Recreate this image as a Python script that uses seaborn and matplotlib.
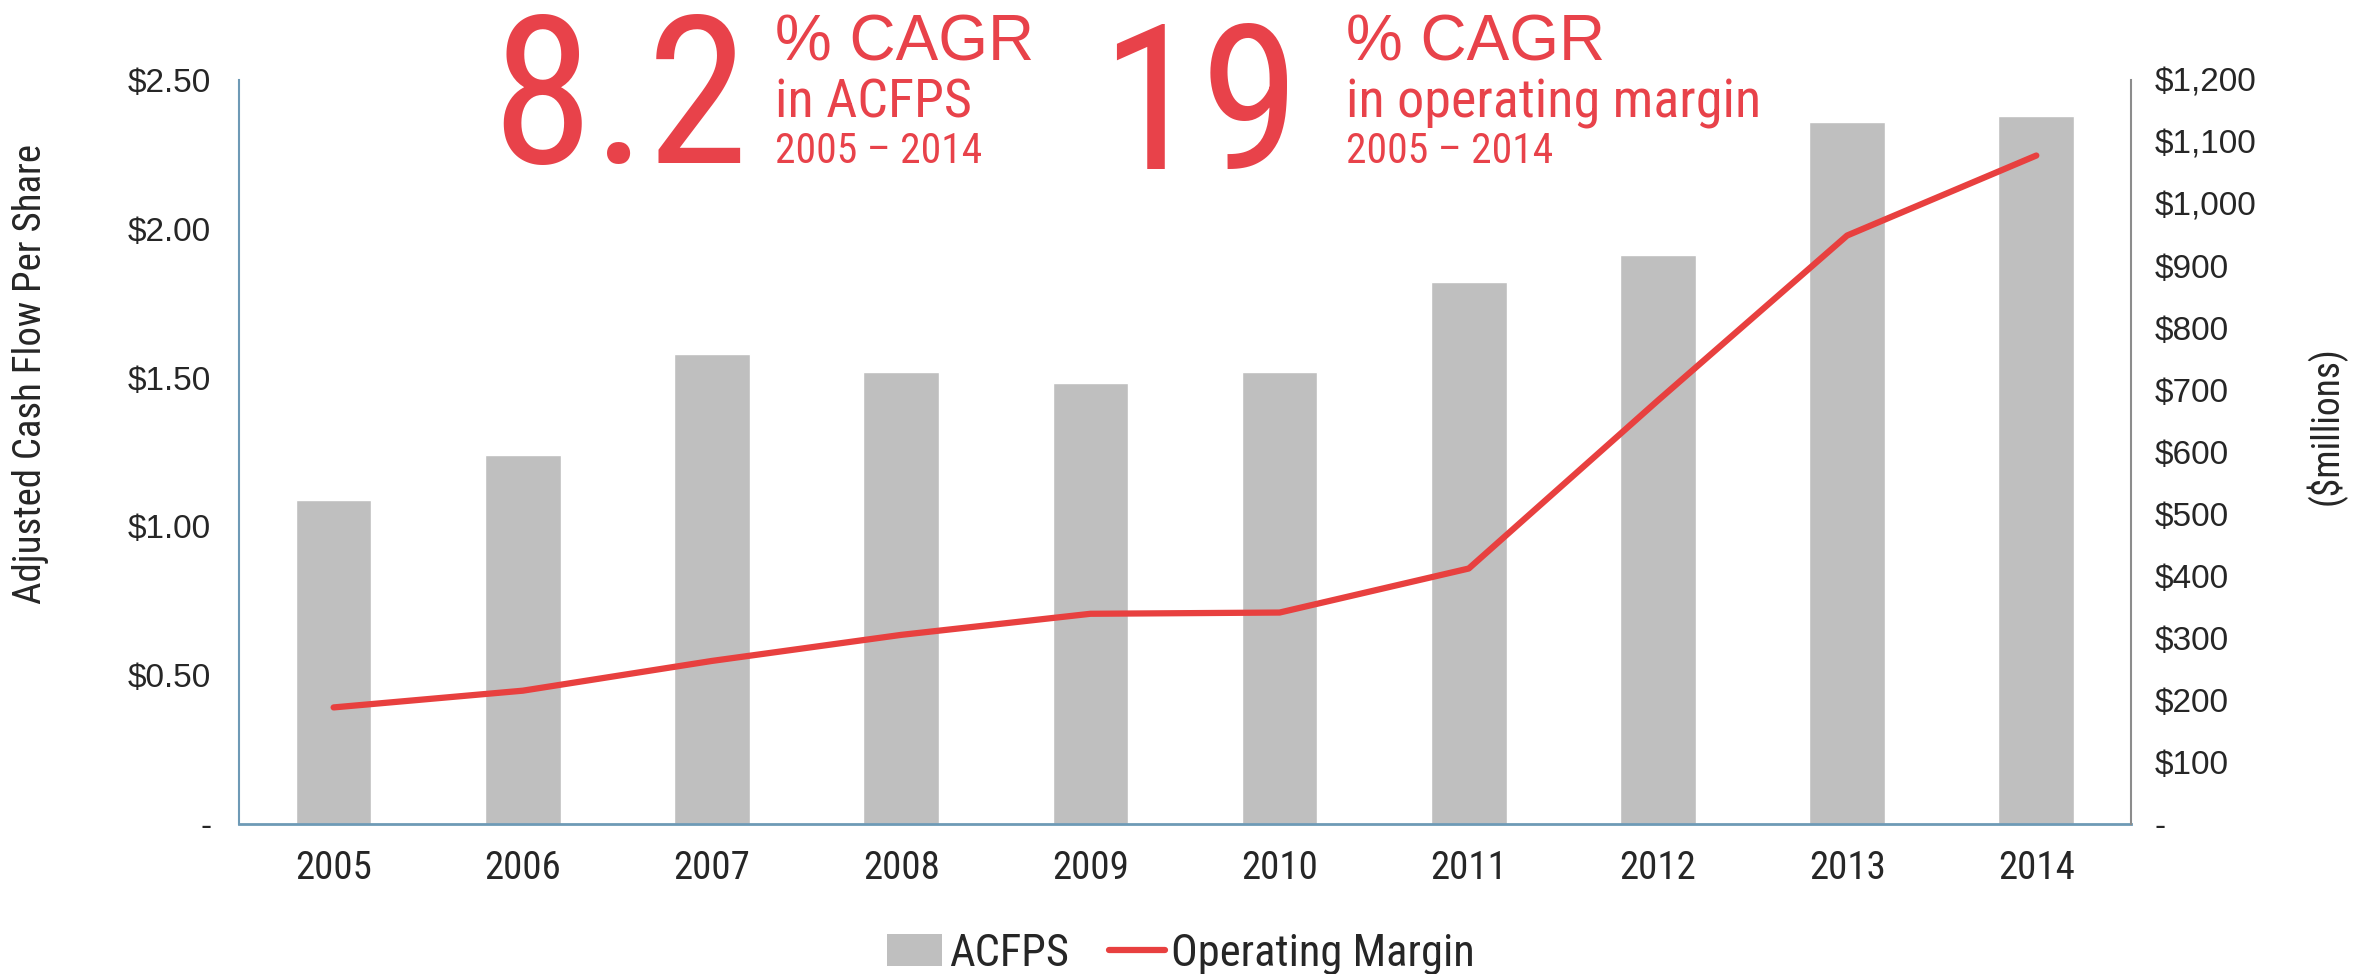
import matplotlib
matplotlib.use("Agg")
import matplotlib.pyplot as plt
from matplotlib import font_manager
from matplotlib.font_manager import FontProperties
from matplotlib.lines import Line2D
from matplotlib.patches import Patch
import seaborn as sns
import pandas as pd

years = ["2005", "2006", "2007", "2008", "2009", "2010", "2011", "2012", "2013", "2014"]
acfps = [1.09, 1.24, 1.58, 1.52, 1.48, 1.52, 1.82, 1.91, 2.36, 2.38]
operating_margin = [188, 215, 263, 305, 339, 341, 412, 683, 949, 1078]

left_ticks = [0, 0.5, 1.0, 1.5, 2.0, 2.5]
left_labels = ["-", "$0.50", "$1.00", "$1.50", "$2.00", "$2.50"]
right_ticks = list(range(0, 1300, 100))
right_labels = ["-"] + ["${:,}".format(v) for v in right_ticks[1:]]

sns.set_theme(style="white")
plt.rcParams["font.family"] = ["Liberation Sans", "DejaVu Sans"]


def narrow_font_file():
    """Find a regular-weight condensed sans face, if one is installed."""
    fl = font_manager.fontManager.ttflist
    regular = lambda f: str(f.weight).lower() in ("400", "normal", "regular", "book") and f.style == "normal"
    for name in ["Liberation Sans Narrow", "Arial Narrow", "Roboto Condensed",
                 "Open Sans Condensed", "Noto Sans Condensed", "DejaVu Sans Condensed"]:
        for f in fl:
            if f.name == name and regular(f):
                return f.fname
    for fam in ["Roboto", "Noto Sans", "Open Sans", "Liberation Sans", "DejaVu Sans"]:
        for f in fl:
            if f.name == fam and regular(f) and f.stretch in ("condensed", "semi-condensed",
                                                                "extra-condensed", "ultra-condensed"):
                return f.fname
    return None


NARROW = narrow_font_file()


def nfp(size):
    if NARROW:
        return FontProperties(fname=NARROW, size=size)
    return FontProperties(family=["Liberation Sans", "DejaVu Sans"], size=size)


RED = "#E8424A"
LINE_RED = "#E8403F"
GREY = "#BFBFBF"
SPINE = "#6E9AB6"

df = pd.DataFrame({"year": years, "acfps": acfps, "margin": operating_margin})

fig = plt.figure(figsize=(23.69, 9.74), dpi=100)
ax = fig.add_axes([0.1009, 0.154, 0.7986, 0.764])

sns.barplot(data=df, x="year", y="acfps", color=GREY, saturation=1, width=0.4, ax=ax)
ax.set_xlim(-0.5, 9.5)
ax.set_ylim(0, 2.5)
ax.set_yticks(left_ticks)
ax.set_yticklabels(left_labels, fontsize=24)
ax.set_xlabel("")
ax.set_ylabel("")
for lab in ax.get_xticklabels():
    lab.set_fontproperties(nfp(28))
ax.tick_params(axis="x", pad=19, length=0)
ax.tick_params(axis="y", pad=20, length=0)

ax2 = ax.twinx()
sns.lineplot(x=list(range(len(years))), y=operating_margin, color=LINE_RED, lw=4.5, ax=ax2)
ax2.set_ylim(0, 1200)
ax2.set_yticks(right_ticks)
ax2.set_yticklabels(right_labels, fontsize=24)
ax2.tick_params(axis="y", pad=17, length=0)
ax2.set_xlim(-0.5, 9.5)

for a in (ax, ax2):
    a.spines["top"].set_visible(False)
ax.spines["left"].set_color(SPINE)
ax.spines["bottom"].set_color(SPINE)
ax.spines["left"].set_linewidth(1.5)
ax.spines["bottom"].set_linewidth(2)
ax.spines["right"].set_visible(False)
ax2.spines["left"].set_visible(False)
ax2.spines["bottom"].set_visible(False)
ax2.spines["right"].set_color("#8C8C8C")
ax2.spines["right"].set_linewidth(1.5)

fig.text(0.0127, 0.616, "Adjusted Cash Flow Per Share", rotation=90, ha="center", va="center",
         fontproperties=nfp(28))
fig.text(0.982, 0.563, "($millions)", rotation=90, ha="center", va="center",
         fontproperties=nfp(27))

# headline growth figures
fig.text(0.2075, 0.833, "8.2", color=RED, fontproperties=nfp(148), ha="left", va="baseline")
fig.text(0.327, 0.938, "% CAGR", color=RED, fontsize=46, ha="left", va="baseline")
fig.text(0.327, 0.879, "in ACFPS", color=RED, fontproperties=nfp(39), ha="left", va="baseline")
fig.text(0.327, 0.833, "2005 – 2014", color=RED, fontproperties=nfp(30), ha="left", va="baseline")

fig.text(0.4645, 0.826, "19", color=RED, fontproperties=nfp(146), ha="left", va="baseline")
fig.text(0.568, 0.938, "% CAGR", color=RED, fontsize=46, ha="left", va="baseline")
fig.text(0.568, 0.879, "in operating margin", color=RED, fontproperties=nfp(39), ha="left", va="baseline")
fig.text(0.568, 0.833, "2005 – 2014", color=RED, fontproperties=nfp(30), ha="left", va="baseline")

handles = [Patch(facecolor=GREY, edgecolor="none", label="ACFPS"),
           Line2D([0], [0], color=LINE_RED, lw=4.5, label="Operating Margin")]
fig.legend(handles=handles, loc="center", bbox_to_anchor=(0.4985, 0.021), ncol=2, frameon=False,
           prop=nfp(32), handlelength=1.25, handletextpad=0.15, columnspacing=0.9)

fig.savefig("out.png", dpi=100)
